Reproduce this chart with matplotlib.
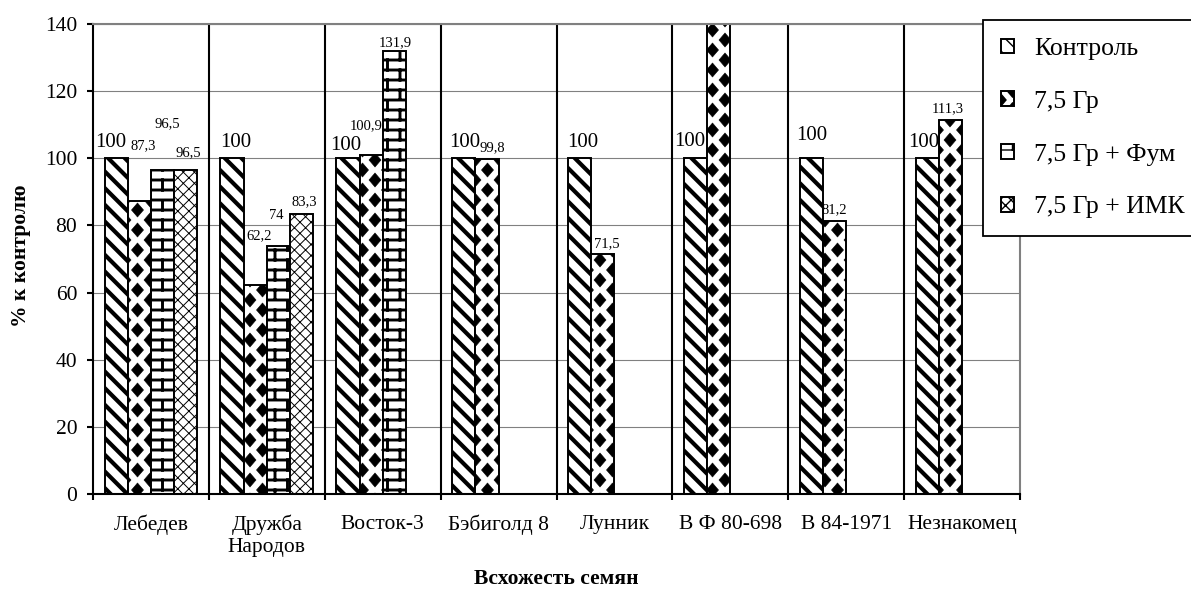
import numpy as np
import matplotlib
matplotlib.use("Agg")
import matplotlib.pyplot as plt
from matplotlib import hatch as mhatch
from matplotlib.path import Path

nan = np.nan

# data
categories = ["Лебедев", "Дружба\nНародов", "Восток-3", "Бэбиголд 8",
              "Лунник", "В Ф 80-698", "В 84-1971", "Незнакомец"]
series_names = ["Контроль", "7,5 Гр", "7,5 Гр + Фум", "7,5 Гр + ИМК"]
control = [100, 100, 100, 100, 100, 100, 100, 100]
gr75 = [87.3, 62.2, 100.9, 99.8, 71.5, 145, 81.2, 111.3]
gr75_fum = [96.5, 74, 131.9, nan, nan, nan, nan, nan]
gr75_imk = [96.5, 83.3, nan, nan, nan, nan, nan, nan]
y_ticks = [0, 20, 40, 60, 80, 100, 120, 140]

# label nudges in pixels (labels were moved by hand in the original)
lift_px = [[16, 16, 13, 16, 16, 17, 23, 16],
           [55, 49, 30, 11, 10, 0, 12, 12],
           [46, 30, 9, 0, 0, 0, 0, 0],
           [17, 13, 0, 0, 0, 0, 0, 0]]
shift_px = [[-5, 4, -2, 1, 3, -6, 0, -4],
            [4, 4, -5, 5, 4, 0, 0, -3],
            [5, -2, 1, 0, 0, 0, 0, 0],
            [3, 3, 0, 0, 0, 0, 0, 0]]


# --- custom fill patterns (bricks, diamonds, lattice) ---
def to_path(parts):
    verts, codes = [], []
    for pts, closed in parts:
        verts.extend(pts)
        codes.extend([Path.MOVETO] + [Path.LINETO] * (len(pts) - 1))
        if closed:
            codes[-1] = Path.CLOSEPOLY
    return np.array(verts, float), np.array(codes, Path.code_type)


class TileHatch(mhatch.HatchPatternBase):
    key = None

    def __init__(self, hatch, density):
        self.verts, self.codes = np.empty((0, 2)), np.empty(0)
        if self.key in hatch:
            self.verts, self.codes = to_path(self.build())
        self.num_vertices = len(self.verts)

    def set_vertices_and_codes(self, vertices, codes):
        vertices[:] = self.verts
        codes[:] = self.codes


class Bricks(TileHatch):
    key = "|"

    def build(self):
        rows, cols = 10, 4
        parts = [([(0, r / rows), (1, r / rows)], False) for r in range(rows + 1)]
        for r in range(rows):
            shift = 0.5 / cols if r % 2 else 0
            for c in range(cols + 1):
                x = c / cols + shift
                parts.append(([(x, r / rows), (x, (r + 1) / rows)], False))
        return parts


class Diamonds(TileHatch):
    key = "o"

    def build(self):
        rows, cols, hw, hh = 10, 4, 0.06, 0.07
        parts = []
        for r in range(rows + 1):
            y = r / rows
            shift = 0.5 / cols if r % 2 else 0
            for c in range(cols + 1):
                x = c / cols + shift
                parts.append(([(x, y - hh), (x + hw, y), (x, y + hh),
                               (x - hw, y), (x, y - hh)], True))
        return parts


class Lattice(TileHatch):
    key = "+"

    def build(self):
        n = 9
        parts = []
        for k in range(-n, 2 * n + 1):
            parts.append(([(0, k / n), (1, k / n + 1)], False))
            parts.append(([(0, k / n), (1, k / n - 1)], False))
        return parts


mhatch._hatch_types = [mhatch.SouthEastHatch, Bricks, Diamonds, Lattice]

plt.rcParams['font.family'] = ['Liberation Serif', 'DejaVu Serif']

fig = plt.figure(figsize=(11.91, 6.08), dpi=100)
ax = fig.add_axes([93 / 1191, 114 / 608, 927 / 1191, 470 / 608])

x = np.arange(len(categories))
series = [control, gr75, gr75_fum, gr75_imk]
hatches = ["\\\\", "o", "|", "+"]
hatch_lw = [3.0, 0.4, 2.1, 0.7]
width = 0.2
px = 72 / fig.dpi

handles = []
for i, vals in enumerate(series):
    pos = x + (i - 1.5) * width
    with plt.rc_context({'hatch.linewidth': hatch_lw[i]}):
        bars = ax.bar(pos, vals, width, color="white", edgecolor="black",
                      linewidth=1.4, hatch=hatches[i], zorder=2)
    for b in bars:
        if hasattr(b, "set_hatch_linewidth"):
            b.set_hatch_linewidth(hatch_lw[i])
    handles.append(bars)
    for j, v in enumerate(vals):
        if np.isnan(v) or v > 140:
            continue
        ax.annotate(f"{v:g}".replace(".", ","), (pos[j], v),
                    xytext=(shift_px[i][j] * px, lift_px[i][j] * px),
                    textcoords="offset points", ha="center", va="center",
                    fontsize=15 if i == 0 else 10.5)

ax.set_xlim(-0.5, len(categories) - 0.5)
ax.set_ylim(0, 140)
ax.set_yticks(y_ticks)

# category borders as ticks, names in between
ax.set_xticks(np.arange(-0.5, len(categories)))
ax.set_xticklabels([])
ax.set_xticks(x, minor=True)
ax.set_xticklabels(categories, minor=True)
ax.tick_params(axis="x", which="major", length=4, width=1.5, direction="out")
ax.tick_params(axis="x", which="minor", length=0, pad=15, labelsize=15.5)
ax.tick_params(axis="y", length=4.3, width=1.5, pad=7, labelsize=15.5)
for b in x[:-1] + 0.5:
    ax.axvline(b, color="black", linewidth=1.5, zorder=1)
ax.yaxis.grid(True, color="#808080", linewidth=0.8)
ax.set_axisbelow(True)

for s in ["left", "bottom"]:
    ax.spines[s].set_linewidth(1.5)
for s in ["top", "right"]:
    ax.spines[s].set_color("#808080")
    ax.spines[s].set_linewidth(1.5)

fig.text(21 / 1191, 1 - 256 / 608, "% к контролю", rotation=90, ha="center",
         va="center", fontsize=15.5, fontweight="bold")
fig.text(556 / 1191, 1 - 579 / 608, "Всхожесть семян", ha="center", va="center",
         fontsize=15.5, fontweight="bold")

leg = ax.legend(handles, series_names, loc="upper left",
                bbox_to_anchor=(983 / 1191, 1 - 20 / 608), bbox_transform=fig.transFigure,
                borderaxespad=0, fancybox=False, edgecolor="black", framealpha=1,
                fontsize=18.5, handlelength=0.5, handleheight=0.5, handletextpad=0.8,
                borderpad=0.7, labelspacing=1.2)
leg.get_frame().set_linewidth(1.3)

plt.savefig("out.png", dpi=100)
